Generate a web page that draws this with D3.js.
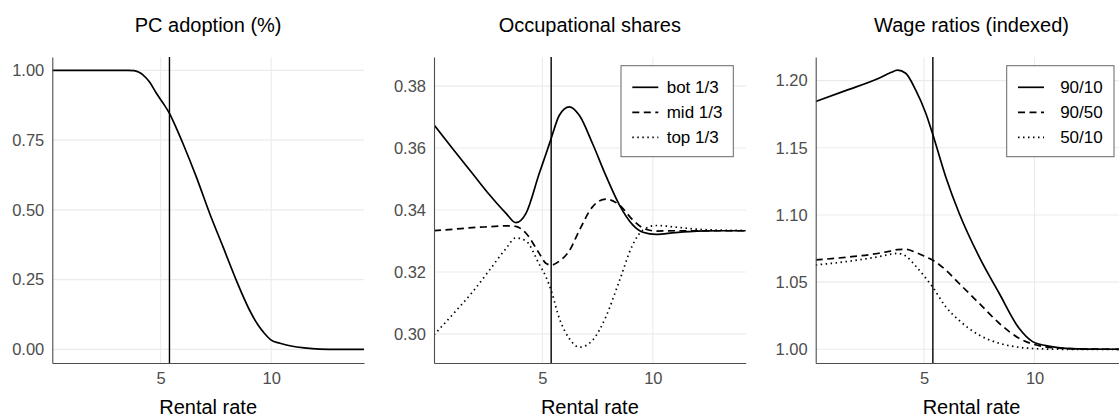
<!DOCTYPE html>
<html lang="en">
<head>
<meta charset="UTF-8">
<title>Rental rate panels</title>
<script src="https://cdn.jsdelivr.net/npm/d3@7"></script>
<style>
  body { margin: 0; background: #fff; }
  svg { display: block; font-family: "Liberation Sans", Arial, sans-serif; }
</style>
</head>
<body>
<div id="chart"></div>
<script>
// ---- data ----
const rentalLine = 5.4;
const xTicks = [5, 10];

// panel 1: PC adoption
const adoptX = [0.1, 1, 2, 3, 3.5, 3.8, 4.0, 4.2, 4.5, 4.81, 5.1, 5.4, 5.7, 6.01, 6.61, 7.22, 7.82, 8.42, 9.02, 9.4, 9.7, 10.0, 10.4, 10.9, 11.5, 12.2, 13, 14.2];
const adoptY = [1, 1, 1, 1, 1, 0.999, 0.994, 0.984, 0.958, 0.918, 0.884, 0.846, 0.795, 0.738, 0.619, 0.487, 0.368, 0.248, 0.141, 0.088, 0.057, 0.033, 0.022, 0.012, 0.005, 0.001, 0, 0];
const adoptTicks = [0, 0.25, 0.5, 0.75, 1];

// panel 2: occupational shares
const shareX = [0.1, 1.0, 1.84, 2.6, 3.35, 3.8, 4.26, 4.86, 5.16, 5.4, 5.77, 6.22, 6.68, 7.28, 7.88, 8.49, 9.09, 9.55, 10.15, 11.0, 12.0, 13.0, 14.2];
const shareBot = [0.3675, 0.3593, 0.3518, 0.3450, 0.3390, 0.3359, 0.3389, 0.3518, 0.3580, 0.3631, 0.3706, 0.3733, 0.3705, 0.3613, 0.3510, 0.3416, 0.3352, 0.3328, 0.3321, 0.3327, 0.3332, 0.3333, 0.3333];
const shareMid = [0.3333, 0.3338, 0.3343, 0.3346, 0.3349, 0.3347, 0.3325, 0.3260, 0.3228, 0.3222, 0.3235, 0.3268, 0.3335, 0.3411, 0.3435, 0.3416, 0.3368, 0.3342, 0.3332, 0.3333, 0.3333, 0.3333, 0.3333];
const shareTop = [0.2997, 0.3067, 0.3135, 0.3205, 0.3275, 0.3310, 0.3300, 0.3225, 0.3185, 0.3140, 0.3050, 0.2985, 0.2957, 0.2980, 0.3056, 0.3172, 0.3288, 0.3335, 0.3350, 0.3345, 0.3338, 0.3335, 0.3334];
const shareTicks = [0.30, 0.32, 0.34, 0.36, 0.38];
const shareNames = ["bot 1/3", "mid 1/3", "top 1/3"];

// panel 3: wage ratios
const wageX = [0.1, 1.45, 2.96, 3.5, 3.8, 4.17, 4.62, 5.08, 5.38, 5.98, 6.59, 7.49, 8.40, 9.30, 9.91, 10.51, 11.42, 12.5, 14.2];
const wage9010 = [1.1845, 1.1926, 1.2018, 1.2060, 1.2078, 1.2055, 1.1931, 1.1757, 1.1608, 1.1285, 1.1013, 1.0690, 1.0417, 1.0156, 1.0057, 1.0027, 1.0007, 1.0001, 1.0];
const wage9050 = [1.0665, 1.0685, 1.0715, 1.0732, 1.0742, 1.0744, 1.0722, 1.0688, 1.0665, 1.0590, 1.0490, 1.0343, 1.0194, 1.0082, 1.0039, 1.0018, 1.0006, 1.0001, 1.0];
const wage5010 = [1.0628, 1.0652, 1.0690, 1.0708, 1.0714, 1.0695, 1.0620, 1.0530, 1.0466, 1.0317, 1.0215, 1.0106, 1.0045, 1.0015, 1.0006, 1.0002, 1.0, 1.0, 1.0];
const wageTicks = [1.00, 1.05, 1.10, 1.15, 1.20];
const wageNames = ["90/10", "90/50", "50/10"];

// ---- layout ----
const W = 1119, H = 417;
const plotTop = 57, plotBottom = 363, pw = 311.7;
const dashes = [null, "7,4.5", "1.5,3.5"];

const svg = d3.select("#chart").append("svg")
  .attr("width", W).attr("height", H);

function panel(idx, left, title, yDomain, yTicks, yFmt, series, xs, names, legend) {
  const x = d3.scaleLinear().domain([0.1, 14.2]).range([left, left + pw]);
  const y = d3.scaleLinear().domain(yDomain).range([plotBottom, plotTop]);
  const g = svg.append("g");

  g.append("clipPath").attr("id", "clip" + idx)
    .append("rect").attr("x", left).attr("y", plotTop).attr("width", pw).attr("height", plotBottom - plotTop);

  // grid
  g.selectAll(".hg").data(yTicks).enter().append("line")
    .attr("x1", left).attr("x2", left + pw)
    .attr("y1", d => y(d)).attr("y2", d => y(d))
    .attr("stroke", "#ebebeb").attr("stroke-width", 1.1);
  g.selectAll(".vg").data(xTicks).enter().append("line")
    .attr("x1", d => x(d)).attr("x2", d => x(d))
    .attr("y1", plotTop).attr("y2", plotBottom)
    .attr("stroke", "#ebebeb").attr("stroke-width", 1.1);

  // curves
  const line = d3.line().curve(d3.curveMonotoneX)
    .x((d, i) => x(xs[i])).y(d => y(d));
  const lines = g.append("g").attr("clip-path", `url(#clip${idx})`);
  series.forEach((s, k) => {
    lines.append("path").attr("d", line(s))
      .attr("fill", "none").attr("stroke", "#000").attr("stroke-width", 1.7)
      .attr("stroke-dasharray", dashes[k]);
  });

  // rental rate marker
  lines.append("line")
    .attr("x1", x(rentalLine)).attr("x2", x(rentalLine))
    .attr("y1", plotTop).attr("y2", plotBottom)
    .attr("stroke", "#000").attr("stroke-width", 1.4);

  // axes
  const yAxis = g.append("g").attr("transform", `translate(${left},0)`)
    .call(d3.axisLeft(y).tickValues(yTicks).tickFormat(yFmt).tickSize(0).tickPadding(8));
  const xAxis = g.append("g").attr("transform", `translate(0,${plotBottom})`)
    .call(d3.axisBottom(x).tickValues(xTicks).tickSize(0).tickPadding(9));
  [yAxis, xAxis].forEach(a => {
    a.select(".domain").attr("stroke", "#4d4d4d").attr("stroke-width", 1.1);
    a.selectAll("text").attr("fill", "#4d4d4d").style("font-size", "16.5px")
      .style("font-family", "'Liberation Sans', Arial, sans-serif");
  });

  // titles
  g.append("text").attr("x", left + pw / 2).attr("y", 32)
    .attr("text-anchor", "middle").style("font-size", "20px").text(title);
  g.append("text").attr("x", left + pw / 2).attr("y", 414)
    .attr("text-anchor", "middle").style("font-size", "20px").text("Rental rate");

  // legend
  if (legend) {
    const lg = g.append("g");
    lg.append("rect").attr("x", legend.x).attr("y", 65.7)
      .attr("width", legend.w).attr("height", 91)
      .attr("fill", "#fff").attr("stroke", "#666").attr("stroke-width", 1);
    names.forEach((n, k) => {
      const cy = 87.3 + k * 25;
      lg.append("line").attr("x1", legend.x + 11.3).attr("x2", legend.x + 37.3)
        .attr("y1", cy).attr("y2", cy)
        .attr("stroke", "#000").attr("stroke-width", 1.7)
        .attr("stroke-dasharray", dashes[k]);
      lg.append("text").attr("x", legend.tx).attr("y", cy + 6)
        .attr("text-anchor", legend.anchor).style("font-size", "17px").text(n);
    });
  }
}

panel(1, 52.3, "PC adoption (%)", [-0.049, 1.048], adoptTicks, d3.format(".2f"),
  [adoptY], adoptX, [], null);
panel(2, 434, "Occupational shares", [0.2906, 0.3894], shareTicks, d3.format(".2f"),
  [shareBot, shareMid, shareTop], shareX, shareNames,
  { x: 621, w: 112.3, tx: 666.7, anchor: "start" });
panel(3, 815.7, "Wage ratios (indexed)", [0.9898, 1.2176], wageTicks, d3.format(".2f"),
  [wage9010, wage9050, wage5010], wageX, wageNames,
  { x: 1006.7, w: 107.3, tx: 1102.7, anchor: "end" });
</script>
</body>
</html>
